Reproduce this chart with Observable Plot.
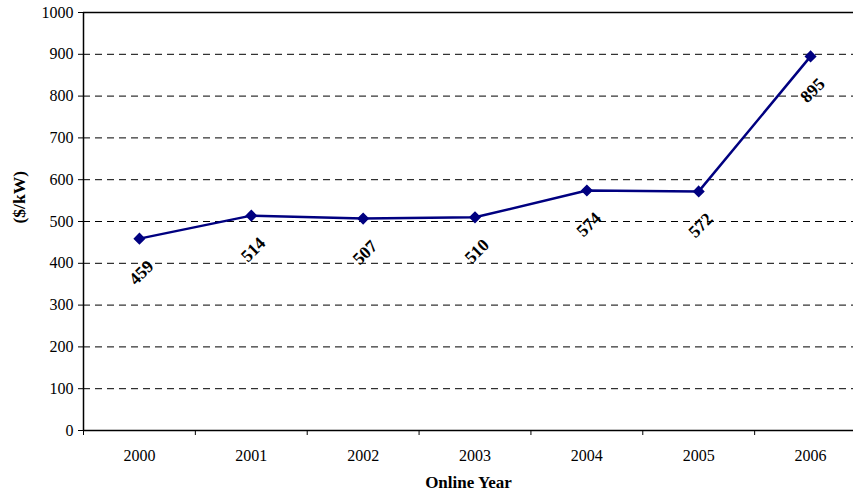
<!DOCTYPE html>
<html>
<head>
<meta charset="utf-8">
<script src="https://cdn.jsdelivr.net/npm/d3@7"></script>
<script src="https://cdn.jsdelivr.net/npm/@observablehq/plot@0.6"></script>
<style>
  html, body { margin: 0; padding: 0; background: #fff; }
  svg { display: block; }
  g[aria-label="x-axis tick label"], g[aria-label="y-axis tick label"] { font-size: 16px; }
</style>
</head>
<body>
<div id="chart"></div>
<script>
const years = [2000, 2001, 2002, 2003, 2004, 2005, 2006];
const costs = [459, 514, 507, 510, 574, 572, 895];
const yTicks = [0, 100, 200, 300, 400, 500, 600, 700, 800, 900, 1000];
const gridValues = [100, 200, 300, 400, 500, 600, 700, 800, 900];
const xTitle = "Online Year";
const yTitle = "($/kW)";

const data = years.map((y, i) => ({year: y, cost: costs[i]}));
const boundaries = [years[0] - 0.5, ...years.map(y => y + 0.5)];

const font = "'Liberation Serif', 'Times New Roman', serif";

const chart = Plot.plot({
  width: 853,
  height: 498,
  marginTop: 12,
  marginBottom: 68,
  marginLeft: 83,
  marginRight: 0,
  style: {fontFamily: font, fontSize: "16px", color: "#000", background: "#fff"},
  x: {domain: [years[0] - 0.5, years[years.length - 1] + 0.5], range: [83, 866]},
  y: {domain: [0, 1000], range: [430, 12]},
  marks: [
    Plot.ruleY(gridValues, {stroke: "#000", strokeWidth: 1, strokeDasharray: "7,5"}),
    Plot.ruleY([1000], {stroke: "#000", strokeWidth: 1.5}),
    Plot.ruleY([0], {stroke: "#000", strokeWidth: 1.5}),
    Plot.ruleX([years[0] - 0.5], {stroke: "#000", strokeWidth: 1.5}),
    Plot.axisY({ticks: yTicks, tickSize: 5, tickPadding: 5, tickFormat: d => String(d), label: null, fontSize: 16}),
    Plot.axisX({ticks: boundaries, tickSize: 5, tickFormat: () => "", label: null}),
    Plot.axisX({ticks: years, tickSize: 0, tickPadding: 19, tickFormat: d => String(d), label: null, fontSize: 16}),
    Plot.line(data, {x: "year", y: "cost", stroke: "#000080", strokeWidth: 2.5}),
    Plot.dot(data, {x: "year", y: "cost", symbol: "diamond2", r: 4.5, fill: "#000080", stroke: "#000080"}),
    Plot.text(data, {x: "year", y: "cost", text: d => String(d.cost), rotate: -45, dy: 34, dx: 2, fontWeight: "bold", fontSize: 17.5}),
    Plot.text([xTitle], {frameAnchor: "bottom", dy: 57, dx: 0, fontWeight: "bold", fontSize: 17}),
    Plot.text([yTitle], {frameAnchor: "left", rotate: -90, dx: -64, dy: 2, fontWeight: "bold", fontSize: 17.5})
  ]
});
document.getElementById("chart").appendChild(chart);
</script>
</body>
</html>
